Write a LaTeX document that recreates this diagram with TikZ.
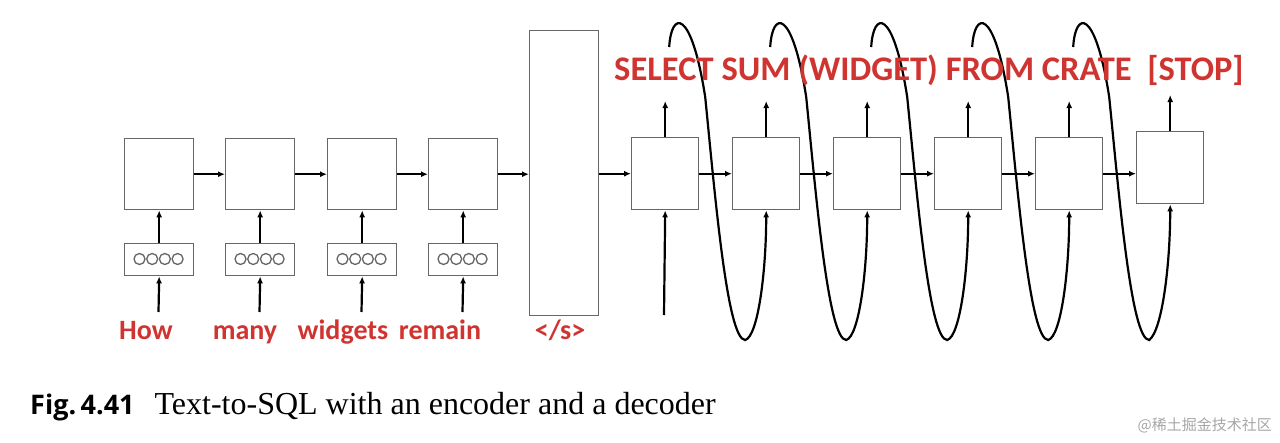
\documentclass[tikz,border=0pt]{standalone}
\usepackage{fontspec}
\setmainfont{Liberation Serif}
\newfontfamily\carl{Carlito}
\newfontfamily\cjkf{Noto Sans CJK SC}
\usetikzlibrary{arrows.meta,calc}
\definecolor{rd}{RGB}{208,52,48}
\begin{document}
\begin{tikzpicture}[x=1pt,y=-1pt,
 box/.style={draw=black!60,line width=1.4pt,fill=white,inner sep=0},
 ar/.style={line width=2.2pt,-{Latex[length=7pt,width=6pt]}},
 lp/.style={line width=2.2pt},
 word/.style={text=rd,font=\carl\bfseries\fontsize{28}{28}\selectfont,inner sep=0,anchor=base}]
\useasboundingbox (0,0) rectangle (1280,442);
% encoder
\foreach \i/\x in {1/124,2/225,3/327,4/428}{
 \node[box,minimum width=69pt,minimum height=71pt,anchor=north west] (e\i) at (\x,138) {};
 \node[box,minimum width=69pt,minimum height=32pt,anchor=north west] (m\i) at (\x,243) {};
 \foreach \k in {0,1,2,3}{\draw[black!60,line width=1.3pt] (\x+15.5+\k*12.7,259) circle (5.5);}
 \coordinate (in\i) at (\x+34.5,312);
 \draw[ar] (in\i) -- (m\i.south);
 \draw[ar] (m\i.north) -- (e\i.south);
}
\node[box,minimum width=69pt,minimum height=285pt,anchor=north west] (s) at (529,30) {};
\draw[ar] (e1) -- (e2); \draw[ar] (e2) -- (e3); \draw[ar] (e3) -- (e4); \draw[ar] (e4.east) -- (s.west|-e4.east);
\node[word] at (146,339) {How};
\node[word] at (245,339) {many};
\node[word] at (343,339) {widgets};
\node[word] at (440,339) {remain};
\node[word] at (560,339) {</s>};
% decoder
\foreach \i/\x in {1/631,2/732,3/833,4/934,5/1035}{
 \node[box,minimum width=67pt,minimum height=72pt,anchor=north west] (d\i) at (\x,137) {};
}
\node[box,minimum width=67pt,minimum height=72pt,anchor=north west] (d6) at (1136,131) {};
\draw[ar] (s.east|-d1.west) -- (d1.west);
\foreach \a/\b in {1/2,2/3,3/4,4/5}{\draw[ar] (d\a.east) -- (d\b.west);}
\draw[ar] (d5.east) -- (d5.east-|d6.west);
\foreach \i in {1,...,6}{
 \coordinate (o\i) at ($(d\i.north)+(0,-36)$);
 \draw[ar] (d\i.north) -- (o\i);
}
\coordinate (f) at (664,315);
\draw[ar] (f) -- (d1.south);
\foreach \a/\b in {1/2,2/3,3/4,4/5,5/6}{
 \coordinate (t\a) at ($(d\a.north)+(4,-90)$);
 \draw[lp,-{Latex[length=7pt,width=6pt]}] (t\a) .. controls ($(t\a)+(2,-36)$) and ($(t\a)+(22,-40)$) .. ($(t\a)+(36,50)$)
 .. controls ($(t\a)+(46,150)$) and ($(t\a)+(58,293)$) .. ($(t\a)+(76,293)$)
 .. controls ($(d\b.south)+(-8,126)$) and ($(d\b.south)+(0,60)$) .. (d\b.south);
}
\node[text=rd,font=\carl\bfseries\fontsize{34.5}{34.5}\selectfont,inner sep=0,anchor=west] (sql) at (614,70) {SELECT SUM (WIDGET) FROM CRATE\ \ [STOP]};
% caption
\node[anchor=base west,inner sep=0] (cap) at (30,414) {{\fontspec{Open Sans}\bfseries\fontsize{27}{27}\selectfont Fig.\,4.41}\hspace{20pt}{\fontsize{32}{32}\selectfont Text-to-SQL with an encoder and a decoder}};
\node[anchor=east,inner sep=0,text=black!35,font=\cjkf\fontsize{15}{15}\selectfont] (wm) at (1272,425) {@稀土掘金技术社区};
\end{tikzpicture}
\end{document}
